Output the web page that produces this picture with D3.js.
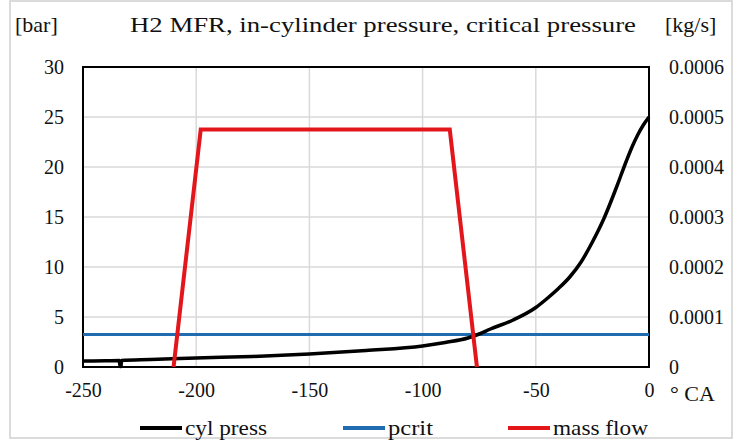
<!DOCTYPE html>
<html>
<head>
<meta charset="utf-8">
<script src="https://cdn.jsdelivr.net/npm/d3@7"></script>
<style>
  body { margin: 0; background: #fff; }
  svg text { font-family: "Liberation Serif", "DejaVu Serif", serif; fill: #111; }
</style>
</head>
<body>
<div id="chart"></div>
<script>
// crank angle [deg CA] and cylinder pressure [bar]
const angleCA = [-250, -240, -234, -233.6, -233.2, -233, -220, -200, -175, -150, -125, -100, -90, -80, -75, -70, -60, -50, -45, -40, -35, -30, -25, -20, -15, -12.5, -10, -7.5, -5, -2.5, 0];
const cylPress = [0.6, 0.62, 0.64, 0.05, 0.05, 0.66, 0.75, 0.9, 1.05, 1.3, 1.65, 2.1, 2.45, 2.9, 3.3, 3.8, 4.7, 5.95, 6.85, 7.85, 9.0, 10.5, 12.5, 14.8, 17.6, 19.1, 20.6, 22.0, 23.2, 24.2, 25.0];
// critical pressure [bar]
const pcritAngle = [-250, 0];
const pcritValue = [3.25, 3.25];
// H2 mass flow [kg/s]
const flowAngle = [-210, -198, -88, -76];
const flowRate = [0, 0.000475, 0.000475, 0];

const xTicks = [-250, -200, -150, -100, -50, 0];
const leftTicks = [0, 5, 10, 15, 20, 25, 30];
const rightTicks = [0, 0.0001, 0.0002, 0.0003, 0.0004, 0.0005, 0.0006];
const rightLabels = ["0", "0.0001", "0.0002", "0.0003", "0.0004", "0.0005", "0.0006"];

const legendItems = [
  { name: "cyl press", color: "#000000" },
  { name: "pcrit", color: "#1f6db0" },
  { name: "mass flow", color: "#e3161b" }
];

const FONT = '"Liberation Serif", "DejaVu Serif", serif';
const W = 733, H = 443;
const svg = d3.select("#chart").append("svg")
  .attr("width", W)
  .attr("height", H);

svg.append("rect")
  .attr("x", 10).attr("y", 1)
  .attr("width", 722).attr("height", 437)
  .attr("fill", "#fff")
  .attr("stroke", "#cfcfcf")
  .attr("stroke-width", 1.5);

const x = d3.scaleLinear().domain([-250, 0]).range([83, 649]);
const yL = d3.scaleLinear().domain([0, 30]).range([367, 67]);
const yR = d3.scaleLinear().domain([0, 0.0006]).range([367, 67]);

// grid
svg.append("g").selectAll("line")
  .data(leftTicks.slice(1, -1))
  .join("line")
  .attr("x1", x(-250)).attr("x2", x(0))
  .attr("y1", d => yL(d)).attr("y2", d => yL(d))
  .attr("stroke", "#d9d9d9").attr("stroke-width", 1.5);

svg.append("g").selectAll("line")
  .data(xTicks.slice(1, -1))
  .join("line")
  .attr("x1", d => x(d)).attr("x2", d => x(d))
  .attr("y1", yL(0)).attr("y2", yL(30))
  .attr("stroke", "#d9d9d9").attr("stroke-width", 1.5);

// axes (labels only, frame drawn separately)
const xAxis = svg.append("g")
  .attr("transform", `translate(0, ${yL(0)})`)
  .call(d3.axisBottom(x).tickValues(xTicks).tickSize(0).tickPadding(15).tickFormat(d => String(d)));
const yAxisL = svg.append("g")
  .attr("transform", `translate(${x(-250) - 19}, 0)`)
  .call(d3.axisLeft(yL).tickValues(leftTicks).tickSize(0).tickPadding(0));
const yAxisR = svg.append("g")
  .attr("transform", `translate(${x(0) + 20}, 0)`)
  .call(d3.axisRight(yR).tickValues(rightTicks).tickSize(0).tickPadding(0)
    .tickFormat((d, i) => rightLabels[i]));

[xAxis, yAxisL, yAxisR].forEach(g => {
  g.attr("font-family", FONT).attr("font-size", 20);
  g.select(".domain").remove();
  g.selectAll("text").attr("fill", "#111");
});
xAxis.selectAll("text").attr("dy", "0.75em");

// plot frame
svg.append("rect")
  .attr("x", x(-250)).attr("y", yL(30))
  .attr("width", x(0) - x(-250)).attr("height", yL(0) - yL(30))
  .attr("fill", "none")
  .attr("stroke", "#000")
  .attr("stroke-width", 2);

// series
const pressLine = d3.line()
  .x((d, i) => x(angleCA[i]))
  .y(d => yL(d))
  .curve(d3.curveMonotoneX);

svg.append("path")
  .datum(pcritValue)
  .attr("fill", "none")
  .attr("stroke", legendItems[1].color)
  .attr("stroke-width", 3)
  .attr("d", d3.line().x((d, i) => x(pcritAngle[i])).y(d => yL(d)));

svg.append("path")
  .datum(cylPress)
  .attr("fill", "none")
  .attr("stroke", legendItems[0].color)
  .attr("stroke-width", 3.5)
  .attr("d", pressLine);

svg.append("path")
  .datum(flowRate)
  .attr("fill", "none")
  .attr("stroke", legendItems[2].color)
  .attr("stroke-width", 4)
  .attr("stroke-linejoin", "miter")
  .attr("d", d3.line().x((d, i) => x(flowAngle[i])).y(d => yR(d)));

// titles
svg.append("text")
  .attr("x", 383).attr("y", 32)
  .attr("text-anchor", "middle")
  .style("font-size", "22px")
  .attr("textLength", 506)
  .attr("lengthAdjust", "spacingAndGlyphs")
  .text("H2 MFR, in-cylinder pressure, critical pressure");
svg.append("text")
  .attr("x", 15).attr("y", 32)
  .style("font-size", "22px")
  .text("[bar]");
svg.append("text")
  .attr("x", 665).attr("y", 32)
  .style("font-size", "22px")
  .text("[kg/s]");
svg.append("text")
  .attr("x", 670).attr("y", 401)
  .style("font-size", "22px")
  .text("\u00B0 CA");

// legend
const legendX = [140, 343, 508];
const legendW = [82, 45, 95];
const legend = svg.append("g").selectAll("g")
  .data(legendItems)
  .join("g")
  .attr("transform", (d, i) => `translate(${legendX[i]}, 428)`);
legend.append("line")
  .attr("x1", 0).attr("x2", 42)
  .attr("stroke", d => d.color)
  .attr("stroke-width", 4);
legend.append("text")
  .attr("x", 45).attr("y", 7)
  .style("font-size", "22px")
  .attr("textLength", (d, i) => legendW[i])
  .attr("lengthAdjust", "spacingAndGlyphs")
  .text(d => d.name);
</script>
</body>
</html>
